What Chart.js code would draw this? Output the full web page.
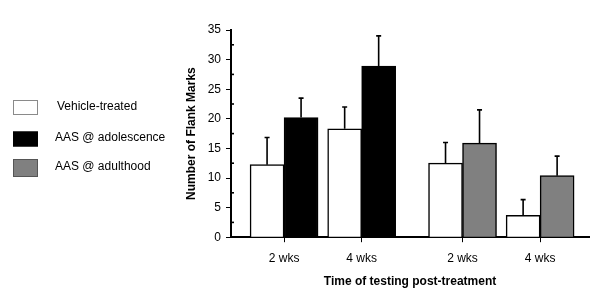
<!DOCTYPE html>
<html lang="en">
<head>
<meta charset="UTF-8" />
<title>Flank Marks</title>
<script src="https://cdn.jsdelivr.net/npm/chart.js"></script>
<style>
  body { margin: 0; background: #fff; }
  #wrap { width: 600px; height: 306px; }
</style>
</head>
<body>
<div id="wrap"><canvas id="flankChart"></canvas></div>
<script>
const xLabels = ["2 wks", "4 wks", "2 wks", "4 wks"];
const seriesNames = ["Vehicle-treated", "AAS @ adolescence", "AAS @ adulthood"];
const vehicle = [12.25, 18.3, 12.5, 3.7];
const vehicleErr = [4.6, 3.7, 3.5, 2.65];
const adolescence = [20.2, 28.9, null, null];
const adolescenceErr = [3.3, 5.1, null, null];
const adulthood = [null, null, 15.9, 10.4];
const adulthoodErr = [null, null, 5.6, 3.3];

// where each group sits on the x axis (wider gap between the two treatment blocks)
const groupX = [0, 1, 2.3, 3.3];

const toPoints = (vals) =>
  vals.map((v, i) => (v === null ? null : { x: groupX[i], y: v })).filter((p) => p);

const errFor = [vehicleErr, adolescenceErr, adulthoodErr].map((errs) =>
  errs.filter((e) => e !== null)
);

const errorBars = {
  id: "errorBars",
  afterDatasetsDraw(chart) {
    const { ctx } = chart;
    const y = chart.scales.y;
    ctx.save();
    ctx.strokeStyle = "#000";
    ctx.lineWidth = 1.6;
    chart.data.datasets.forEach((ds, di) => {
      const meta = chart.getDatasetMeta(di);
      meta.data.forEach((bar, i) => {
        const top = y.getPixelForValue(ds.data[i].y + errFor[di][i]);
        ctx.beginPath();
        ctx.moveTo(bar.x, bar.y);
        ctx.lineTo(bar.x, top);
        ctx.moveTo(bar.x - 2.5, top);
        ctx.lineTo(bar.x + 2.5, top);
        ctx.stroke();
      });
    });
    // small minor ticks on the right of the y axis
    const left = chart.chartArea.left;
    for (let v = 2.5; v < 35; v += 5) {
      const py = y.getPixelForValue(v);
      ctx.beginPath();
      ctx.moveTo(left, py);
      ctx.lineTo(left + 3, py);
      ctx.stroke();
    }
    ctx.restore();
  },
};

const sideLegend = {
  id: "sideLegend",
  afterDraw(chart) {
    const { ctx } = chart;
    const rows = [107.5, 139, 168];
    const heights = [15, 15, 18];
    const edges = ["#8a8a8a", "#000", "#555"];
    ctx.save();
    ctx.font = "12px 'Liberation Sans', Arial, sans-serif";
    ctx.textBaseline = "middle";
    chart.data.datasets.forEach((ds, i) => {
      const h = heights[i];
      ctx.fillStyle = ds.backgroundColor;
      ctx.fillRect(13, rows[i] - h / 2, 25, h);
      ctx.strokeStyle = edges[i];
      ctx.lineWidth = 1;
      ctx.strokeRect(13.5, rows[i] - h / 2 + 0.5, 24, h - 1);
      ctx.fillStyle = "#000";
      ctx.fillText(seriesNames[i], i === 0 ? 57 : 55, rows[i] - 1);
    });
    ctx.restore();
  },
};

Chart.defaults.font.family = "'Liberation Sans', Arial, sans-serif";
Chart.defaults.color = "#000";

new Chart(document.getElementById("flankChart"), {
  type: "bar",
  data: {
    datasets: [
      { label: seriesNames[0], data: toPoints(vehicle), backgroundColor: "#ffffff" },
      { label: seriesNames[1], data: toPoints(adolescence), backgroundColor: "#000000" },
      { label: seriesNames[2], data: toPoints(adulthood), backgroundColor: "#808080" },
    ],
  },
  options: {
    responsive: true,
    maintainAspectRatio: false,
    animation: false,
    skipNull: true,
    barThickness: 34,
    borderColor: "#000",
    borderWidth: 1.5,
    layout: { padding: { left: 180, right: 11, top: 30, bottom: 13 } },
    plugins: { legend: { display: false }, tooltip: { enabled: false } },
    scales: {
      x: {
        type: "linear",
        offset: false,
        min: -0.684,
        max: 3.93,
        afterBuildTicks: (scale) => {
          scale.ticks = groupX.map((v) => ({ value: v }));
        },
        ticks: {
          font: { size: 12 },
          padding: 9,
          callback: (v, i) => xLabels[i],
        },
        grid: { drawOnChartArea: false, color: "#000", tickLength: 5, offset: false },
        border: { color: "#000", width: 2 },
        title: {
          display: true,
          text: "Time of testing post-treatment",
          font: { size: 12, weight: "bold" },
          padding: { top: 0 },
        },
      },
      y: {
        min: 0,
        max: 35,
        ticks: { stepSize: 5, font: { size: 12 }, padding: 5 },
        grid: { drawOnChartArea: false, color: "#000", tickLength: 5 },
        border: { color: "#000", width: 2 },
        title: {
          display: true,
          text: "Number of Flank Marks",
          font: { size: 12, weight: "bold" },
          padding: { bottom: 4 },
        },
        afterFit: (scale) => {
          scale.width = 51;
        },
      },
    },
  },
  plugins: [errorBars, sideLegend],
});
</script>
</body>
</html>
